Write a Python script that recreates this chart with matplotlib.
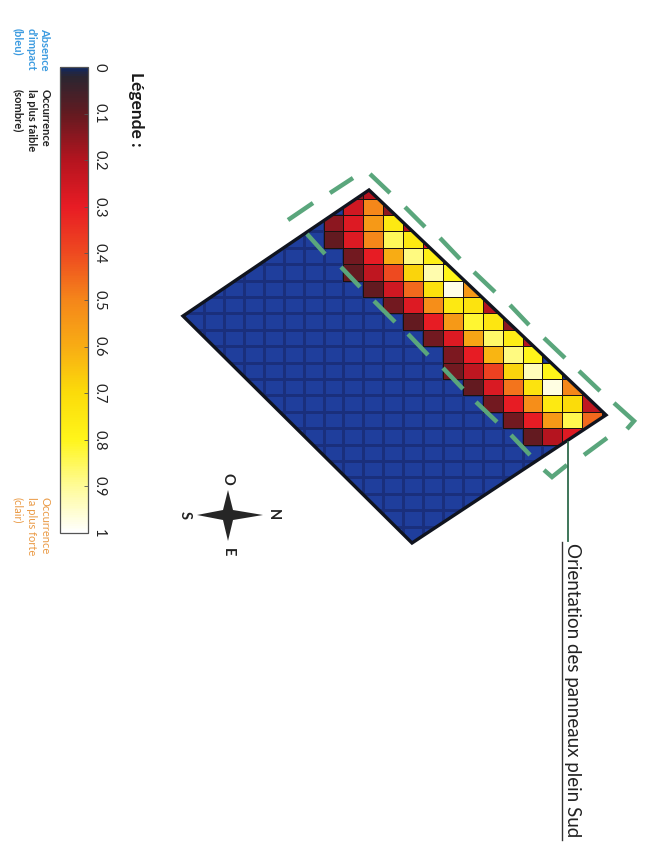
import numpy as np
import matplotlib
matplotlib.use('Agg')
import matplotlib.pyplot as plt
from matplotlib.collections import LineCollection
from matplotlib.colors import LinearSegmentedColormap, Normalize
from matplotlib.patches import Polygon
from matplotlib.cm import ScalarMappable

plt.rcParams['font.family'] = ['Lato', 'DejaVu Sans']

# occurrence values, one list per row of the grid: first column, then values
first_col = [8, 8, 7, 7, 8, 8, 9, 10, 11, 12, 13, 13, 14, 15, 16, 17]
occurrence = [
    [.15, .2],
    [.25, .5, .15],
    [.15, .28, .55, .75, .2],
    [.1, .28, .5, .85, .75, .3],
    [.12, .3, .6, .88, .78],
    [.1, .22, .4, .68, .92, .8],
    [.1, .25, .45, .72, .98, .55],
    [.12, .28, .52, .75, .73, .2],
    [.1, .3, .55, .82, .74, .15],
    [.12, .28, .58, .86, .77, .2],
    [.13, .3, .62, .88, .8],
    [.12, .22, .38, .68, .93, .8],
    [.1, .27, .47, .73, .97, .5],
    [.12, .3, .52, .75, .7, .22],
    [.12, .3, .55, .84, .45],
    [.1, .2, .28],
]
n_cols = 22
n_rows = 23

cb_ticks = [0, .1, .2, .3, .4, .5, .6, .7, .8, .9, 1]
cb_labels = ['0', '0.1', '0.2', '0.3', '0.4', '0.5', '0.6', '0.7', '0.8', '0.9', '1']

colors = [(0, '#12285e'), (.02, '#2b2530'), (.1, '#641a20'), (.2, '#b5141f'), (.3, '#e81c24'),
          (.4, '#ee4a20'), (.5, '#f5861a'), (.6, '#f8ac14'), (.7, '#fbdc0a'), (.8, '#fff51a'),
          (.9, '#fffb96'), (1, '#ffffff')]
cmap = LinearSegmentedColormap.from_list('occ', colors)
norm = Normalize(0, 1)

W, H = 645, 858
fig = plt.figure(figsize=(W / 100, H / 100), dpi=100)
ax = fig.add_axes([0, 0, 1, 1])
ax.set_xlim(0, W)
ax.set_ylim(H, 0)
ax.axis('off')

# grid
xe = 184.2 + 19.9 * np.arange(n_cols + 1)
ye = 182.2 + 16.4 * np.arange(n_rows + 1)

corners = [(369, 190), (606, 415), (412, 543), (183, 316)]
clip = Polygon(corners, closed=True, transform=ax.transData, fc='none', ec='none')
ax.add_patch(clip)

blue_cmap = LinearSegmentedColormap.from_list('b', ['#1f3e9c', '#1f3e9c'])
m1 = ax.pcolormesh(xe, ye, np.zeros((n_rows, n_cols)), cmap=blue_cmap, edgecolors='#1a2f7c', linewidth=0.8)
m1.set_clip_path(clip)
# one mesh per row so only the cells with a value get the dark edges
for r, (c0, vals) in enumerate(zip(first_col, occurrence)):
    m = ax.pcolormesh(xe[c0:c0 + len(vals) + 1], ye[r:r + 2], [vals], cmap=cmap, norm=norm,
                      edgecolors='#1a1210', linewidth=0.65)
    m.set_clip_path(clip)
ax.add_patch(Polygon(corners, closed=True, fc='none', ec='#10141f', lw=2.4, joinstyle='miter'))

# dashed green frame
frame_dashes = [
    [(288, 220), (313, 203)], [(330, 193), (353, 178)],
    [(370, 174), (390, 193)], [(405, 207), (425, 227)], [(440, 238), (460, 259)],
    [(474, 272), (495, 292)], [(510, 305), (529, 325)], [(544, 338), (565, 358)],
    [(579, 371), (600, 391)], [(614, 403), (634, 421), (627, 429)],
    [(607, 438), (584, 455)], [(567, 465), (552, 477), (544, 470)],
    [(530, 455), (511, 435)], [(497, 422), (476, 402)], [(463, 389), (443, 368)],
    [(428, 355), (408, 334)], [(395, 322), (374, 301)], [(360, 287), (341, 267)],
    [(325, 254), (307, 234)],
]
ax.add_collection(LineCollection(frame_dashes, colors='#5aa67c', linewidths=3.2, capstyle='butt', joinstyle='miter'))

# pointer and label
ax.plot([568, 568], [442, 541], color='#2f6b4c', lw=1.3)
ax.text(572, 690, 'Orientation des panneaux plein Sud', rotation=270, ha='center', va='center',
        fontsize=13.5, color='#222222')
ax.plot([562, 562], [542, 840], color='#333333', lw=1.0)

# compass
cx, cy = 228, 515
ax.add_patch(Polygon([(cx, 490), (cx + 5, cy - 5), (263, cy), (cx + 5, cy + 5), (cx, 541),
                      (cx - 5, cy + 5), (197, cy), (cx - 5, cy - 5)], closed=True, fc='#262626', ec='none'))
for x, y, s in [(228, 479, 'O'), (273, 515, 'N'), (185, 515, 'S'), (228, 552, 'E')]:
    ax.text(x, y, s, rotation=270, ha='center', va='center', fontsize=10.5, fontweight='bold', color='#222222')

# legend texts
ax.text(136, 72, 'Légende :', rotation=270, ha='center', va='top', fontsize=12.5, fontweight='bold', color='#1a1a1a')
for x, s in [(45, 'Occurrence'), (31, 'la plus faible'), (18, '(sombre)')]:
    ax.text(x, 89, s, rotation=270, ha='center', va='top', fontsize=8, fontweight='bold', color='#222222')
for x, s in [(45, 'Absence'), (31, "d'impact"), (18, '(bleu)')]:
    ax.text(x, 28, s, rotation=270, ha='center', va='top', fontsize=8, fontweight='bold', color='#3c9be0')
for x, s in [(45, 'Occurrence'), (31, 'la plus forte'), (18, '(clair)')]:
    ax.text(x, 497, s, rotation=270, ha='center', va='top', fontsize=8, color='#ea9a45')

# colorbar
cax = fig.add_axes([60 / W, 1 - 533 / H, 28 / W, 466 / H])
cb = fig.colorbar(ScalarMappable(norm=norm, cmap=cmap), cax=cax, ticks=cb_ticks)
cax.invert_yaxis()
cb.ax.set_yticklabels(cb_labels, rotation=270, va='center', ha='center', fontsize=10.5, color='#222222')
cb.ax.tick_params(axis='y', direction='in', length=3, width=0.6, color='#555555', pad=8)
cb.outline.set_edgecolor('#555555')
cb.outline.set_linewidth(0.9)

fig.savefig('out.png', dpi=100)
